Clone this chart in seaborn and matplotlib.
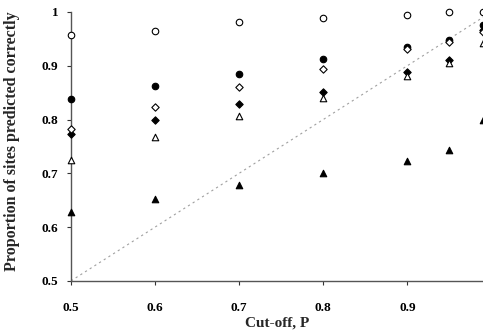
import matplotlib
matplotlib.use("Agg")
import matplotlib.pyplot as plt
import seaborn as sns
import pandas as pd

# cut-off values and proportion of sites predicted correctly
cutoff = [0.5, 0.6, 0.7, 0.8, 0.9, 0.95, 0.99]
open_circle = [0.957, 0.965, 0.981, 0.989, 0.994, 1.0, 1.0]
filled_circle = [0.838, 0.862, 0.884, 0.913, 0.935, 0.947, 0.975]
open_diamond = [0.782, 0.823, 0.860, 0.894, 0.932, 0.945, 0.962]
filled_diamond = [0.774, 0.800, 0.829, 0.851, 0.888, 0.911, 0.966]
open_triangle = [0.724, 0.768, 0.806, 0.840, 0.881, 0.905, 0.942]
filled_triangle = [0.628, 0.652, 0.678, 0.700, 0.723, 0.744, 0.800]

series = [
    ("filled_circle", filled_circle, "o", "black"),
    ("filled_diamond", filled_diamond, "D", "black"),
    ("filled_triangle", filled_triangle, "^", "black"),
    ("open_circle", open_circle, "o", "white"),
    ("open_diamond", open_diamond, "D", "white"),
    ("open_triangle", open_triangle, "^", "white"),
]

sns.set_style("ticks")
plt.rcParams["font.family"] = ["Liberation Serif", "DejaVu Serif"]
plt.rcParams["font.weight"] = "bold"

fig = plt.figure(figsize=(4.83, 3.32), dpi=100)
ax = fig.add_axes([0.147, 0.154, 0.853, 0.810])

# diagonal reference line y = x
ax.plot([0.5, 1.0], [0.5, 1.0], color="#a0a0a0", lw=0.8, ls=(0, (2, 3)), zorder=1)

for name, vals, mk, face in series:
    df = pd.DataFrame({"cutoff": cutoff, "prop": vals})
    size = 14 if mk == "D" else 22
    sns.scatterplot(data=df, x="cutoff", y="prop", marker=mk, s=size,
                    facecolor=face, edgecolor="black", linewidth=0.8,
                    ax=ax, zorder=3, clip_on=False, legend=False)

ax.set_xlim(0.5, 0.99)
ax.set_ylim(0.5, 1.0)
ax.set_xticks([0.5, 0.6, 0.7, 0.8, 0.9])
ax.set_xticklabels(["0.5", "0.6", "0.7", "0.8", "0.9"])
ax.set_yticks([0.5, 0.6, 0.7, 0.8, 0.9, 1.0])
ax.set_yticklabels(["0.5", "0.6", "0.7", "0.8", "0.9", "1"])
ax.tick_params(axis="both", direction="out", length=3, width=0.8,
               colors="#333333", labelcolor="black", labelsize=9.5)
ax.tick_params(axis="x", pad=12)
ax.tick_params(axis="y", pad=6)

for side in ["top", "right"]:
    ax.spines[side].set_visible(False)
for side in ["left", "bottom"]:
    ax.spines[side].set_color("#555555")
    ax.spines[side].set_linewidth(1.0)

ax.set_xlabel("Cut-off, P", fontsize=11, fontweight="bold", labelpad=2)
ax.set_ylabel("Proportion of sites predicted correctly", fontsize=11.5,
              fontweight="bold", labelpad=9)
ax.yaxis.set_label_coords(-0.125, 0.52)

fig.savefig("out.png", dpi=100)
